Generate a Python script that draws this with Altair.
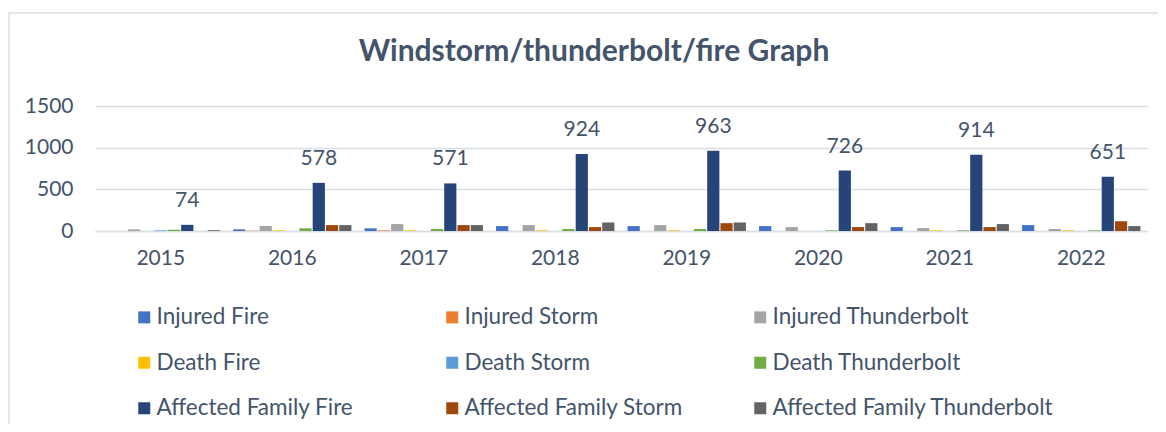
import altair as alt
import pandas as pd

years = ["2015", "2016", "2017", "2018", "2019", "2020", "2021", "2022"]
series = [
    "Injured Fire", "Injured Storm", "Injured Thunderbolt",
    "Death Fire", "Death Storm", "Death Thunderbolt",
    "Affected Family Fire", "Affected Family Storm", "Affected Family Thunderbolt",
]
colors = ["#4472C4", "#ED7D31", "#A5A5A5", "#FFC000", "#5B9BD5", "#70AD47",
          "#264478", "#9E480E", "#636363"]

injured_fire = [0, 20, 32, 59, 59, 59, 47, 71]
injured_storm = [0, 4, 8, 0, 0, 0, 0, 0]
injured_thunderbolt = [20, 60, 83, 71, 71, 47, 35, 24]
death_fire = [0, 8, 8, 8, 8, 0, 8, 8]
death_storm = [8, 0, 0, 0, 0, 0, 0, 0]
death_thunderbolt = [15, 32, 24, 24, 24, 8, 8, 8]
affected_family_fire = [74, 578, 571, 924, 963, 726, 914, 651]
affected_family_storm = [0, 71, 71, 47, 94, 47, 47, 118]
affected_family_thunderbolt = [10, 71, 71, 102, 102, 94, 83, 59]

all_values = [injured_fire, injured_storm, injured_thunderbolt, death_fire,
              death_storm, death_thunderbolt, affected_family_fire,
              affected_family_storm, affected_family_thunderbolt]

title_text = ["Windstorm/thunderbolt/fire Graph"]

rows = []
for s, vals in zip(series, all_values):
    for y, v in zip(years, vals):
        rows.append({"year": y, "series": s, "value": v})
df = pd.DataFrame(rows)

TXT = "#44546A"
FONT = "Lato"
W, H = 1052, 125

x_enc = alt.X("year:N", sort=years, title=None,
              scale=alt.Scale(paddingInner=0.1, paddingOuter=0.05),
              axis=alt.Axis(labelFontSize=21, labelColor=TXT, labelFont=FONT,
                            labelPadding=16, ticks=False, domainColor="#D9DEE6",
                            domainWidth=1.5, labelAngle=0))
xoff = alt.XOffset("series:N", sort=series,
                   scale=alt.Scale(domain=series, paddingInner=0.08))
y_enc = alt.Y("value:Q", title=None,
              scale=alt.Scale(domain=[0, 1500], nice=False),
              axis=alt.Axis(values=[0, 500, 1000, 1500], format="d",
                            labelFontSize=21,
                            labelColor=TXT, labelFont=FONT, labelPadding=22,
                            ticks=False, domain=False, gridColor="#D9DEE6",
                            gridWidth=1.5))

bars = alt.Chart(df).mark_bar().encode(
    x=x_enc, xOffset=xoff, y=y_enc,
    color=alt.Color("series:N", sort=series, title=None,
                    scale=alt.Scale(domain=series, range=colors),
                    legend=alt.Legend(orient="none", legendX=38, legendY=200,
                                      direction="horizontal",
                                      columns=3, gridAlign="all",
                                      symbolType="square", symbolSize=144,
                                      symbolStrokeWidth=0, labelFontSize=22.5,
                                      labelFont=FONT, labelColor=TXT,
                                      labelLimit=400, labelOffset=1,
                                      columnPadding=3, rowPadding=22.5)),
)

labels = alt.Chart(df).transform_filter(
    alt.datum.series == "Affected Family Fire"
).mark_text(fontSize=21, font=FONT, color=TXT, baseline="bottom", dy=-14).encode(
    x=alt.X("year:N", sort=years), xOffset=alt.XOffset("series:N", sort=series),
    y="value:Q", text="value:Q",
)

frame = alt.Chart(pd.DataFrame({"a": [0]})).mark_rect(
    fill="transparent", stroke="#D9DEE6", strokeWidth=1.5
).encode(
    x=alt.value(-86), x2=alt.value(1100), y=alt.value(-93), y2=alt.value(400)
)

title = alt.Chart(pd.DataFrame({"t": title_text})).mark_text(
    fontSize=30, font=FONT, fontWeight="bold", color=TXT,
    align="center", baseline="middle"
).encode(x=alt.value(499), y=alt.value(-54), text="t:N")

chart = alt.layer(frame, bars, labels, title).properties(
    width=W, height=H,
    autosize=alt.AutoSizeParams(type="none"),
    padding={"left": 87, "top": 98, "right": 11, "bottom": 193},
).configure_view(stroke=None)

chart.save("out.html", embed_options={"renderer": "svg", "actions": False})
